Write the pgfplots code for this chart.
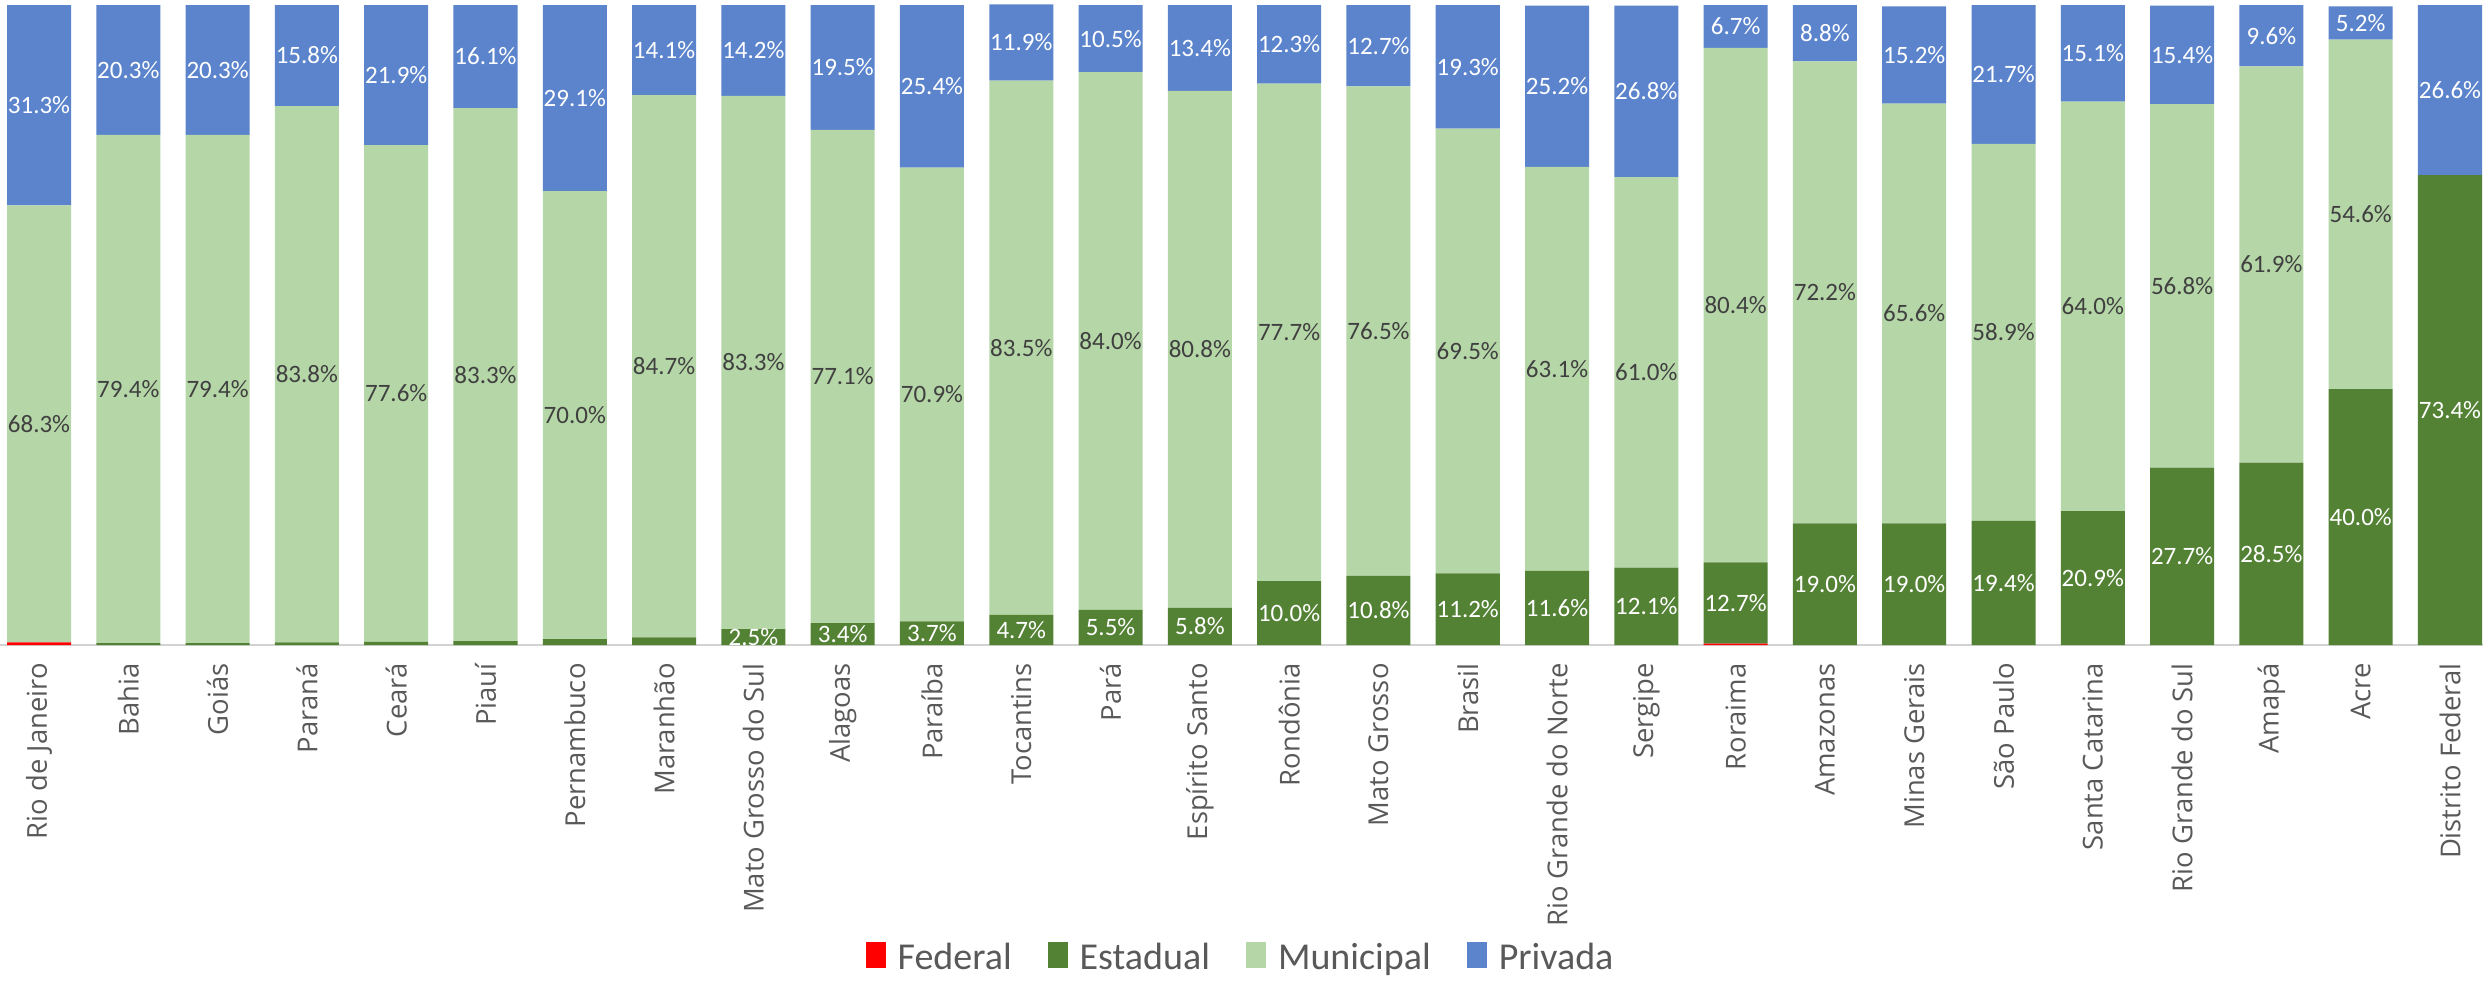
\documentclass[border=0pt]{standalone}
\usepackage{pgfplots}
\pgfplotsset{compat=1.18}
\usepackage{fontspec}
\setmainfont{Carlito}
\newfontfamily\tickfont{Open Sans}
\definecolor{fed}{RGB}{255,0,0}
\definecolor{est}{RGB}{84,130,53}
\definecolor{mun}{RGB}{181,214,167}
\definecolor{pri}{RGB}{91,132,204}
\definecolor{lblgray}{RGB}{89,89,89}
\definecolor{dark}{RGB}{64,64,64}
\pgfplotsset{
  geom/.style={at={(0pt,0pt)}, anchor=south west,
    scale only axis, width=1241.5pt, height=320pt,
    xmin=-0.437, xmax=27.37, ymin=0, ymax=100},
  lbl/.style={draw=none, mark=none, nodes near coords={\pgfplotspointmeta}, point meta=explicit symbolic,
    every node near coord/.append style={anchor=center, font=\fontsize{12.5}{12.5}\selectfont, text=#1}},
}
\begin{document}
\begin{tikzpicture}
\begin{axis}[
  geom,
  ybar stacked, bar width=0.717,
  axis y line=none, axis x line*=bottom,
  x axis line style={draw=gray!35, line width=1.2pt, -},
  xtick={0,...,27},
  xticklabels={Rio de Janeiro,Bahia,Goiás,Paraná,Ceará,Piauí,Pernambuco,Maranhão,Mato Grosso do Sul,Alagoas,Paraíba,Tocantins,Pará,Espírito Santo,Rondônia,Mato Grosso,Brasil,Rio Grande do Norte,Sergipe,Roraima,Amazonas,Minas Gerais,São Paulo,Santa Catarina,Rio Grande do Sul,Amapá,Acre,Distrito Federal},
  major tick length=0pt,
  xticklabel style={rotate=90, anchor=east, font=\tickfont\fontsize{13.7}{13.7}\selectfont, text=lblgray, inner sep=0pt},
  xticklabel shift=9pt,
  legend style={at={(0.5,-0.489)}, anchor=center, legend columns=4, draw=none, fill=none,
    font=\fontsize{19}{19}\selectfont, text=lblgray,
    /tikz/every odd column/.append style={column sep=4pt},
    /tikz/every even column/.append style={column sep=16pt}},
  clip=false,
]
\addplot[fill=fed, draw=none, legend image code/.code={\fill[fed] (0pt,-5pt) rectangle (10pt,8pt);}] coordinates {
(0,0.4) (1,0) (2,0) (3,0) (4,0) (5,0) (6,0) (7,0) (8,0) (9,0) (10,0) (11,0) (12,0) (13,0)
(14,0) (15,0) (16,0) (17,0) (18,0) (19,0.2) (20,0) (21,0) (22,0) (23,0) (24,0) (25,0) (26,0) (27,0)};
\addlegendentry{Federal}
\addplot[fill=est, draw=none, legend image code/.code={\fill[est] (0pt,-5pt) rectangle (10pt,8pt);}] coordinates {
(0,0) (1,0.3) (2,0.3) (3,0.4) (4,0.5) (5,0.6) (6,0.9) (7,1.2) (8,2.5) (9,3.4) (10,3.7) (11,4.7)
(12,5.5) (13,5.8) (14,10.0) (15,10.8) (16,11.2) (17,11.6) (18,12.1) (19,12.7) (20,19.0) (21,19.0)
(22,19.4) (23,20.9) (24,27.7) (25,28.5) (26,40.0) (27,73.4)};
\addlegendentry{Estadual}
\addplot[fill=mun, draw=none, legend image code/.code={\fill[mun] (0pt,-5pt) rectangle (10pt,8pt);}] coordinates {
(0,68.3) (1,79.4) (2,79.4) (3,83.8) (4,77.6) (5,83.3) (6,70.0) (7,84.7) (8,83.3) (9,77.1)
(10,70.9) (11,83.5) (12,84.0) (13,80.8) (14,77.7) (15,76.5) (16,69.5) (17,63.1) (18,61.0) (19,80.4)
(20,72.2) (21,65.6) (22,58.9) (23,64.0) (24,56.8) (25,61.9) (26,54.6) (27,0)};
\addlegendentry{Municipal}
\addplot[fill=pri, draw=none, legend image code/.code={\fill[pri] (0pt,-5pt) rectangle (10pt,8pt);}] coordinates {
(0,31.3) (1,20.3) (2,20.3) (3,15.8) (4,21.9) (5,16.1) (6,29.1) (7,14.1) (8,14.2) (9,19.5)
(10,25.4) (11,11.9) (12,10.5) (13,13.4) (14,12.3) (15,12.7) (16,19.3) (17,25.2) (18,26.8) (19,6.7)
(20,8.8) (21,15.2) (22,21.7) (23,15.1) (24,15.4) (25,9.6) (26,5.2) (27,26.6)};
\addlegendentry{Privada}
\end{axis}
\begin{axis}[geom, hide axis, clip=false]
% Estadual labels (segment centres)
\addplot[lbl=white] coordinates {
(8,1.25) [2.5\%] (9,1.7) [3.4\%] (10,1.85) [3.7\%] (11,2.35) [4.7\%] (12,2.75) [5.5\%] (13,2.9) [5.8\%]
(14,5.0) [10.0\%] (15,5.4) [10.8\%] (16,5.6) [11.2\%] (17,5.8) [11.6\%] (18,6.05) [12.1\%] (19,6.55) [12.7\%]
(20,9.5) [19.0\%] (21,9.5) [19.0\%] (22,9.7) [19.4\%] (23,10.45) [20.9\%] (24,13.85) [27.7\%]
(25,14.25) [28.5\%] (26,20.0) [40.0\%] (27,36.7) [73.4\%]};
% Municipal labels
\addplot[lbl=dark] coordinates {
(0,34.55) [68.3\%] (1,40.0) [79.4\%] (2,40.0) [79.4\%] (3,42.3) [83.8\%] (4,39.3) [77.6\%]
(5,42.25) [83.3\%] (6,35.9) [70.0\%] (7,43.55) [84.7\%] (8,44.15) [83.3\%] (9,41.95) [77.1\%]
(10,39.15) [70.9\%] (11,46.45) [83.5\%] (12,47.5) [84.0\%] (13,46.2) [80.8\%] (14,48.85) [77.7\%]
(15,49.05) [76.5\%] (16,45.95) [69.5\%] (17,43.15) [63.1\%] (18,42.6) [61.0\%] (19,53.1) [80.4\%]
(20,55.1) [72.2\%] (21,51.8) [65.6\%] (22,48.85) [58.9\%] (23,52.9) [64.0\%] (24,56.1) [56.8\%]
(25,59.45) [61.9\%] (26,67.3) [54.6\%]};
% Privada labels
\addplot[lbl=white] coordinates {
(0,84.35) [31.3\%] (1,89.85) [20.3\%] (2,89.85) [20.3\%] (3,92.1) [15.8\%] (4,89.05) [21.9\%]
(5,91.95) [16.1\%] (6,85.45) [29.1\%] (7,92.95) [14.1\%] (8,92.9) [14.2\%] (9,90.25) [19.5\%]
(10,87.3) [25.4\%] (11,94.15) [11.9\%] (12,94.75) [10.5\%] (13,93.3) [13.4\%] (14,93.85) [12.3\%]
(15,93.65) [12.7\%] (16,90.35) [19.3\%] (17,87.3) [25.2\%] (18,86.5) [26.8\%] (19,96.65) [6.7\%]
(20,95.6) [8.8\%] (21,92.2) [15.2\%] (22,89.15) [21.7\%] (23,92.45) [15.1\%] (24,92.2) [15.4\%]
(25,95.2) [9.6\%] (26,97.2) [5.2\%] (27,86.7) [26.6\%]};
\end{axis}
\pgfresetboundingbox
\path[use as bounding box] (0pt,-167.5pt) rectangle (1241.5pt,322.5pt);
\end{tikzpicture}
\end{document}
